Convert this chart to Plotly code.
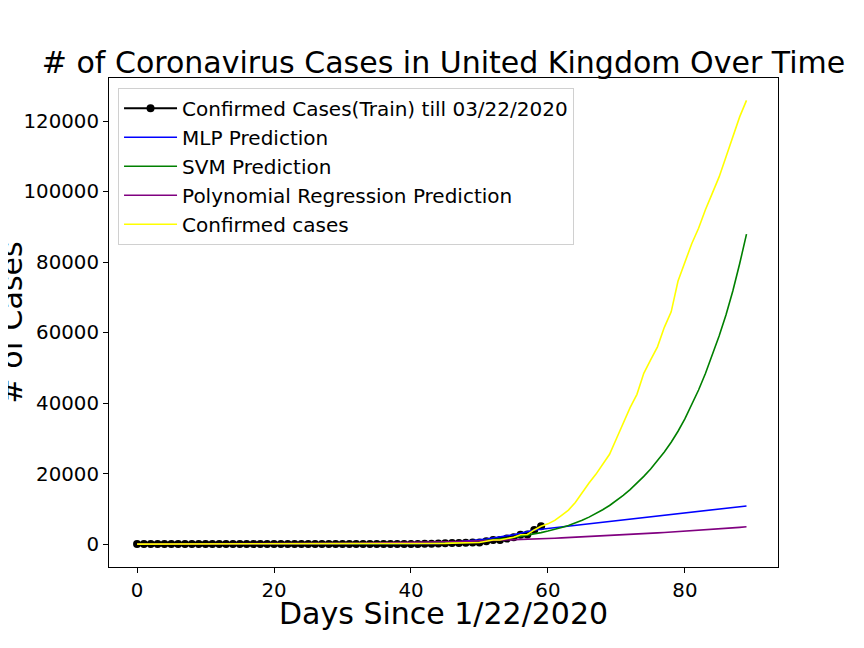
import plotly.graph_objs as go

## days since 1/22/2020
days_train = list(range(0, 60))
days_all = list(range(0, 90))

## confirmed cases used for training (up to 03/22/2020)
cases_train = [0, 0, 0, 0, 0, 0, 0, 0, 0, 2,
               2, 2, 2, 2, 2, 2, 3, 3, 3, 8,
               8, 9, 9, 9, 9, 9, 9, 9, 9, 9,
               9, 9, 9, 13, 13, 13, 15, 20, 23, 36,
               40, 51, 86, 116, 164, 209, 278, 321, 383, 460,
               460, 799, 1144, 1145, 1551, 1960, 2642, 2716, 4014, 5067]

## confirmed cases after the training window
cases_later = [5741, 6726, 8164, 9640, 11812, 14745, 17312, 19780, 22453, 25481,
               29865, 34173, 38689, 42477, 48436, 52279, 55949, 61474, 65872, 74605,
               79874, 85206, 89570, 94845, 99483, 104145, 109769, 115314, 121172, 125856]

cases_all = cases_train + cases_later

## model predictions
mlp_pred = [0, 0, 0, 0, 0, 0, 0, 0, 0, 0,
            0, 0, 0, 0, 0, 0, 0, 0, 0, 0,
            0, 0, 0, 0, 0, 0, 0, 0, 0, 0,
            0, 0, 0, 0, 0, 0, 0, 0, 0, 0,
            0, 0, 0, 50, 150, 300, 450, 600, 800, 1000,
            1200, 1450, 1700, 2000, 2300, 2650, 3050, 3500, 4000, 4220,
            4440, 4660, 4880, 5100, 5320, 5540, 5760, 5980, 6200, 6420,
            6640, 6860, 7080, 7300, 7520, 7740, 7960, 8180, 8400, 8620,
            8840, 9060, 9280, 9500, 9720, 9940, 10160, 10380, 10600, 10820]

svm_pred = [0, 0, 0, 0, 0, 0, 0, 0, 0, 0,
            0, 0, 0, 0, 1, 1, 1, 2, 2, 3,
            1, 1, 2, 2, 3, 3, 4, 5, 7, 9,
            15, 19, 25, 31, 40, 50, 63, 78, 97, 119,
            146, 178, 216, 261, 314, 375, 447, 532, 629, 742,
            872, 1021, 1194, 1389, 1614, 1870, 2161, 2489, 2860, 3250,
            3700, 4150, 4700, 5300, 5950, 6750, 7650, 8650, 9750, 10950,
            12300, 13800, 15450, 17250, 19200, 21300, 23600, 26100, 28900, 32000,
            35500, 39400, 43700, 48400, 53500, 59000, 65000, 71800, 79500, 87900]

poly_pred = [0, 0, 0, 1, 1, 2, 3, 4, 6, 8,
             10, 13, 16, 20, 25, 30, 36, 42, 49, 57,
             65, 74, 83, 94, 106, 120, 134, 149, 164, 180,
             195, 213, 231, 250, 270, 290, 312, 335, 359, 384,
             410, 450, 490, 530, 575, 620, 670, 720, 770, 825,
             880, 940, 1000, 1065, 1130, 1200, 1270, 1345, 1420, 1500,
             1580, 1665, 1750, 1840, 1930, 2020, 2115, 2215, 2315, 2415,
             2520, 2625, 2730, 2840, 2950, 3060, 3175, 3290, 3405, 3520,
             3650, 3775, 3905, 4035, 4170, 4305, 4445, 4590, 4740, 4900]

font_family = "DejaVu Sans"

##first the traces
data = [
    go.Scatter(x=days_train, y=cases_train, mode="lines+markers",
               name="Confirmed Cases(Train) till 03/22/2020", legendgroup="a",
               line=dict(color="black", width=2),
               marker=dict(color="black", size=8)),
    go.Scatter(x=days_all, y=mlp_pred, mode="lines", name="MLP Prediction",
               legendgroup="b", line=dict(color="blue", width=1.6)),
    go.Scatter(x=days_all, y=svm_pred, mode="lines", name="SVM Prediction",
               legendgroup="c", line=dict(color="green", width=1.6)),
    go.Scatter(x=days_all, y=poly_pred, mode="lines",
               name="Polynomial Regression Prediction", legendgroup="d",
               line=dict(color="purple", width=1.6)),
    go.Scatter(x=days_all, y=cases_all, mode="lines", name="Confirmed cases",
               legendgroup="e", line=dict(color="yellow", width=1.6)),
]

##layout, matplotlib look (page has an 8px offset, margins account for it)
layout = go.Layout(
    width=864, height=648,
    margin=dict(l=101, r=94, t=70, b=89),
    paper_bgcolor="white", plot_bgcolor="white",
    font=dict(family=font_family, color="black"),
    title=dict(text="# of Coronavirus Cases in United Kingdom Over Time",
               font=dict(size=30, family=font_family, color="black"),
               x=0.5, xref="paper", xanchor="center",
               y=1 - 54 / 648, yanchor="middle"),
    xaxis=dict(range=[-4.1, 93.6], tickvals=[0, 20, 40, 60, 80],
               showgrid=False, zeroline=False, showline=True, mirror=True,
               linecolor="black", linewidth=1,
               ticks="outside", ticklen=5, tickcolor="black",
               tickfont=dict(size=19.8)),
    yaxis=dict(range=[-6500, 132200], tickvals=list(range(0, 140000, 20000)),
               tickformat="d",
               showgrid=False, zeroline=False, showline=True, mirror=True,
               linecolor="black", linewidth=1,
               ticks="outside", ticklen=5, tickcolor="black",
               tickfont=dict(size=19.8)),
    legend=dict(x=0.0135, y=0.98, xanchor="left", yanchor="top",
                bgcolor="white", bordercolor="#d0d0d0", borderwidth=1,
                font=dict(size=20), traceorder="grouped", tracegroupgap=0,
                itemwidth=53),
    annotations=[
        dict(text="# of Cases", textangle=-90, showarrow=False,
             xref="paper", yref="paper", x=(3 - 101) / 669, y=0.5,
             xanchor="center", yanchor="middle", font=dict(size=30)),
        dict(text="Days Since 1/22/2020", showarrow=False,
             xref="paper", yref="paper", x=0.5, y=-46 / 489,
             xanchor="center", yanchor="middle", font=dict(size=30)),
    ],
)

fig = go.Figure(data=data, layout=layout)
fig.write_html("out.html")
